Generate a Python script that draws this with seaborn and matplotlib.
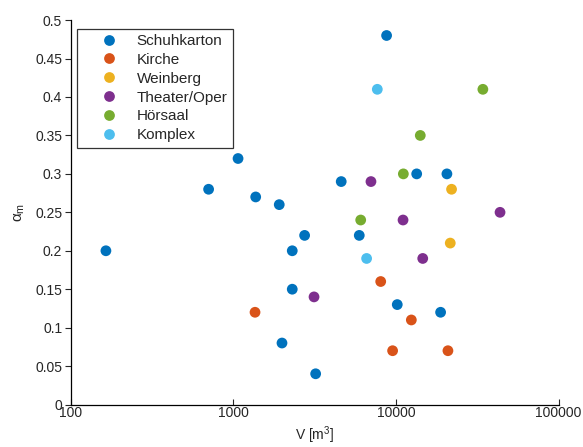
import pandas as pd
import seaborn as sns
import matplotlib.pyplot as plt
from matplotlib.ticker import FixedLocator, NullFormatter, LogLocator

# Daten pro Raumtyp (Volumen in m^3, alpha_m)
schuh_v = [165, 706, 1071, 1375, 1919, 4614, 8770, 2307, 2307, 1995, 2748, 5957, 13430, 20600, 10200, 18840, 3213]
schuh_a = [0.20, 0.28, 0.32, 0.27, 0.26, 0.29, 0.48, 0.20, 0.15, 0.08, 0.22, 0.22, 0.30, 0.30, 0.13, 0.12, 0.04]
kirche_v = [1362, 8070, 12450, 9550, 20900]
kirche_a = [0.12, 0.16, 0.11, 0.07, 0.07]
wein_v = [22000, 21600]
wein_a = [0.28, 0.21]
theater_v = [7030, 11070, 43700, 14630, 3140]
theater_a = [0.29, 0.24, 0.25, 0.19, 0.14]
hoer_v = [34270, 14130, 11120, 6080]
hoer_a = [0.41, 0.35, 0.30, 0.24]
komplex_v = [7690, 6610]
komplex_a = [0.41, 0.19]

typen = ["Schuhkarton", "Kirche", "Weinberg", "Theater/Oper", "Hörsaal", "Komplex"]
farben = ["#0072BD", "#D95319", "#EDB120", "#7E2F8E", "#77AC30", "#4DBEEE"]

frames = []
for name, v, a in zip(typen,
                      [schuh_v, kirche_v, wein_v, theater_v, hoer_v, komplex_v],
                      [schuh_a, kirche_a, wein_a, theater_a, hoer_a, komplex_a]):
    frames.append(pd.DataFrame({"V": v, "alpha": a, "Typ": name}))
df = pd.concat(frames, ignore_index=True)

sns.set_style("white")
plt.rcParams['font.family'] = ['Liberation Sans', 'DejaVu Sans']
plt.rcParams['mathtext.fontset'] = 'custom'
plt.rcParams['mathtext.rm'] = 'Liberation Sans'
plt.rcParams['mathtext.it'] = 'Liberation Sans'

fig = plt.figure(figsize=(5.83, 4.47), dpi=100)
ax = fig.add_axes([0.121, 0.095, 0.837, 0.860])

sns.scatterplot(data=df, x="V", y="alpha", hue="Typ", hue_order=typen,
                palette=farben, s=60, linewidth=0, ax=ax)

ax.set_xscale("log")
ax.set_xlim(100, 100000)
ax.set_ylim(0, 0.5)
ax.set_yticks([0, 0.05, 0.1, 0.15, 0.2, 0.25, 0.3, 0.35, 0.4, 0.45, 0.5])
ax.set_yticklabels(["0", "0.05", "0.1", "0.15", "0.2", "0.25", "0.3", "0.35", "0.4", "0.45", "0.5"])
ax.xaxis.set_major_locator(FixedLocator([100, 1000, 10000, 100000]))
ax.set_xticklabels(["100", "1000", "10000", "100000"])
ax.xaxis.set_minor_locator(LogLocator(base=10, subs=range(2, 10)))
ax.xaxis.set_minor_formatter(NullFormatter())

for s in ["top", "right"]:
    ax.spines[s].set_visible(False)
for s in ["left", "bottom"]:
    ax.spines[s].set_color("black")
    ax.spines[s].set_linewidth(0.9)

ax.tick_params(axis="x", which="major", direction="in", length=4, width=0.8, labelsize=10, pad=1)
ax.tick_params(axis="x", which="minor", direction="in", length=2.5, width=0.6)
ax.tick_params(axis="y", direction="out", length=4, width=0.8, labelsize=10, pad=2, left=True)
ax.tick_params(axis="x", bottom=True)

ax.set_xlabel("V [m$^3$]", fontsize=10, labelpad=3)
ax.set_ylabel(r"$\alpha_\mathrm{m}$", fontsize=11, labelpad=6)

leg = ax.legend(loc="upper left", bbox_to_anchor=(0.013, 0.978), fontsize=11,
                frameon=True, fancybox=False, edgecolor="black",
                handlelength=3.5, handletextpad=0.05, borderpad=0.35,
                labelspacing=0.32, borderaxespad=0)
leg.get_frame().set_linewidth(0.9)

fig.savefig("out.png", dpi=100)
